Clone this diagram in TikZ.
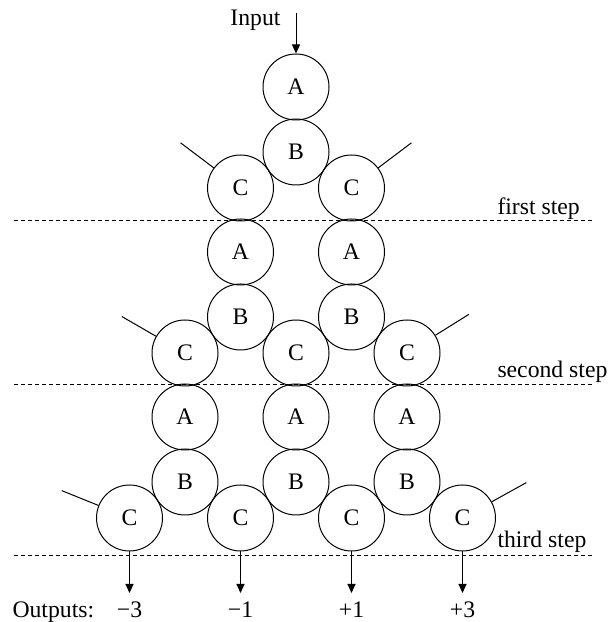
\documentclass[tikz,border=0pt]{standalone}
\usepackage{fontspec}
\setmainfont{Liberation Serif}
\usetikzlibrary{arrows.meta, positioning}
\tikzset{
>={Triangle[length=4.5pt,width=4pt]}, % small filled arrow heads
node distance=32.5pt and 27.75pt, % centre to centre, see on grid
on grid,
every node/.style={font=\fontsize{11.85pt}{14pt}\selectfont, inner sep=1pt},
unit/.style={circle, draw, minimum size=33pt, inner sep=0pt}, % the A, B, C circles
stepline/.style={dash pattern=on 2pt off 1.5pt},
}

\begin{document}
\begin{tikzpicture}[x=0.5pt, y=0.5pt, line width=0.5pt]
  \useasboundingbox (0,0) rectangle (608,622);

  % first step
  \node[unit] (a1) at (296,535) {A};
  \node[unit, below=of a1] (b1) {B};
  \node[unit, below left=18pt and 27.75pt of b1] (c11) {C};
  \node[unit, below right=18pt and 27.75pt of b1] (c12) {C};

  % second step
  \node[unit, below=32pt of c11] (a21) {A};
  \node[unit, below=32pt of c12] (a22) {A};
  \node[unit, below=of a21] (b21) {B};
  \node[unit, below=of a22] (b22) {B};
  \node[unit, below left=18pt and 27.75pt of b21] (c21) {C};
  \node[unit, below right=18pt and 27.75pt of b21] (c22) {C};
  \node[unit, below right=18pt and 27.75pt of b22] (c23) {C};

  % third step
  \node[unit, below=32pt of c21] (a31) {A};
  \node[unit, below=32pt of c22] (a32) {A};
  \node[unit, below=32pt of c23] (a33) {A};
  \node[unit, below=of a31] (b31) {B};
  \node[unit, below=of a32] (b32) {B};
  \node[unit, below=of a33] (b33) {B};
  \node[unit, below left=18pt and 27.75pt of b31] (c31) {C};
  \node[unit, below right=18pt and 27.75pt of b31] (c32) {C};
  \node[unit, below right=18pt and 27.75pt of b32] (c33) {C};
  \node[unit, below right=18pt and 27.75pt of b33] (c34) {C};

  % lost ends
  \coordinate (e11) at ([shift={(143:75)}]c11);
  \coordinate (e12) at ([shift={(37:75)}]c12);
  \coordinate (e21) at ([shift={(150:73)}]c21);
  \coordinate (e23) at ([shift={(32:73)}]c23);
  \coordinate (e31) at ([shift={(158:73)}]c31);
  \coordinate (e34) at ([shift={(29:73)}]c34);
  \draw (c11) -- (e11);
  \draw (c12) -- (e12);
  \draw (c21) -- (e21);
  \draw (c23) -- (e23);
  \draw (c31) -- (e31);
  \draw (c34) -- (e34);

  % step lines
  \draw[stepline] (14,401) -- (595,401);
  \draw[stepline] (14,237) -- (595,237);
  \draw[stepline] (14,66) -- (595,66);
  \node[anchor=base west] (s1) at (495,407) {first step};
  \node[anchor=base west] (s2) at (495,244) {second step};
  \node[anchor=base west] (s3) at (495,75) {third step};

  % input and outputs
  \coordinate (in) at (296,609);
  \node[anchor=base east] (inlabel) at (283,596) {Input};
  \draw[->] (in) -- (a1);

  \coordinate (o1) at (c31 |- 0,29);
  \coordinate (o2) at (c32 |- 0,29);
  \coordinate (o3) at (c33 |- 0,29);
  \coordinate (o4) at (c34 |- 0,29);
  \draw[->] (c31) -- (o1);
  \draw[->] (c32) -- (o2);
  \draw[->] (c33) -- (o3);
  \draw[->] (c34) -- (o4);
  \node[anchor=base west] (outlabel) at (10,4) {Outputs:};
  \node[anchor=base] (v1) at (c31 |- 0,4) {−3};
  \node[anchor=base] (v2) at (c32 |- 0,4) {−1};
  \node[anchor=base] (v3) at (c33 |- 0,4) {+1};
  \node[anchor=base] (v4) at (c34 |- 0,4) {+3};
\end{tikzpicture}
\end{document}
